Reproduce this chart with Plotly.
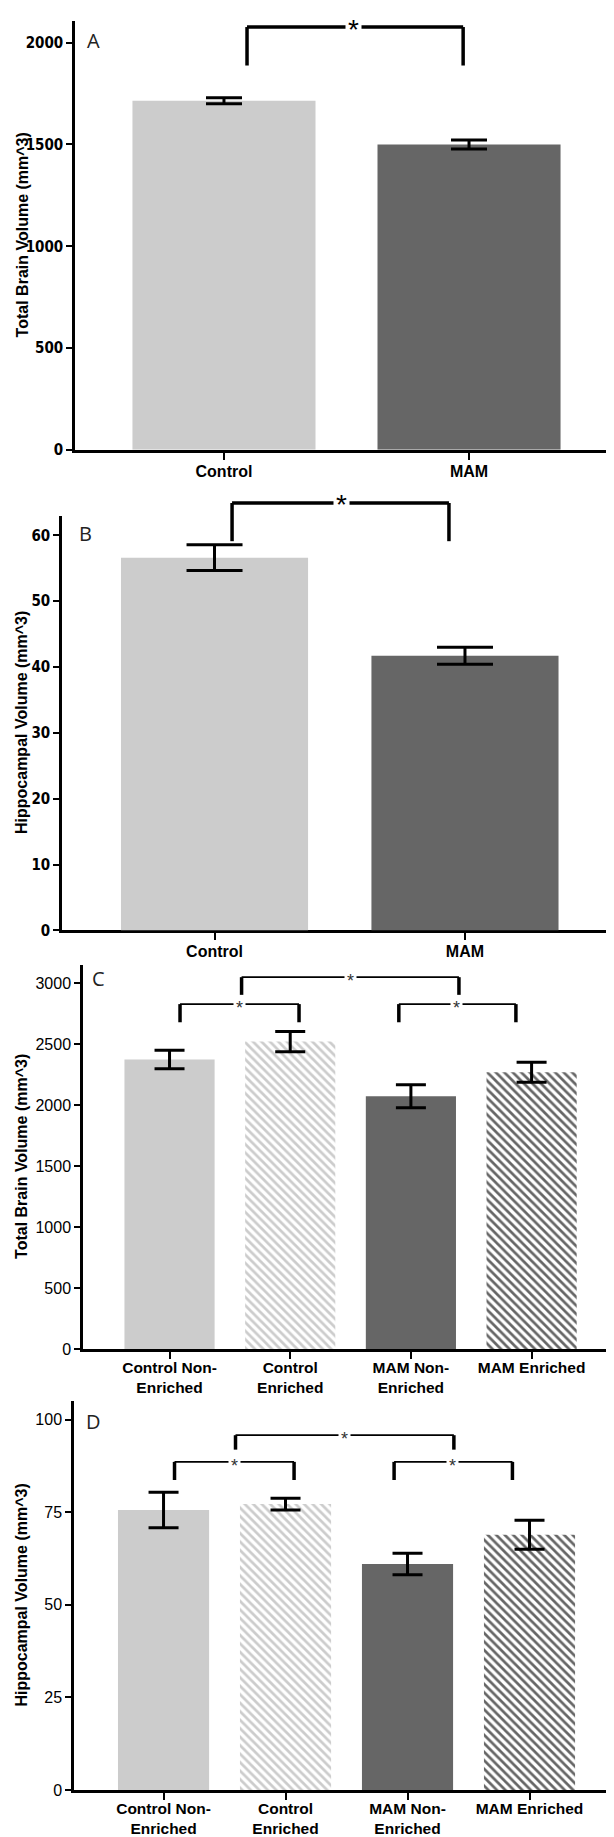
import plotly.graph_objects as go

W, H = 614, 1837

# ---------------- data ----------------
cat_ab = ["Control", "MAM"]
brain_ab = [1715, 1500]
brain_ab_err = [15, 22]
hippo_ab = [56.6, 41.7]
hippo_ab_err = [1.95, 1.3]

cat_cd = ["Control Non-Enriched", "Control Enriched", "MAM Non-Enriched", "MAM Enriched"]
cat_cd_labels = ["Control Non-<br>Enriched", "Control<br>Enriched", "MAM Non-<br>Enriched", "MAM Enriched"]
brain_cd = [2375, 2522, 2073, 2270]
brain_cd_err = [76, 83, 95, 82]
hippo_cd = [75.6, 77.2, 61.0, 68.9]
hippo_cd_err = [4.8, 1.6, 2.9, 3.9]

ticks_a = [0, 500, 1000, 1500, 2000]
ticks_b = [0, 10, 20, 30, 40, 50, 60]
ticks_c = [0, 500, 1000, 1500, 2000, 2500, 3000]
ticks_d = [0, 25, 50, 75, 100]

# significance brackets: (x_left, x_right, y_top, y_bottom, star_x)
brackets_a = [(0.094, 0.976, 2077, 1888, 0.53)]
brackets_b = [(0.07, 0.936, 64.9, 59.1, 0.505)]
brackets_c = [(0.597, 2.398, 3050, 2905, 1.5),
              (0.087, 1.073, 2829, 2680, 0.58),
              (1.90, 2.87, 2829, 2680, 2.38)]
brackets_d = [(0.59, 2.38, 95.8, 91.9, 1.48),
              (0.09, 1.07, 88.6, 83.7, 0.58),
              (1.89, 2.86, 88.6, 83.7, 2.37)]

LIGHT = "#cccccc"
DARK = "#666666"

panels = [
    dict(letter="A", cats=cat_ab, labels=cat_ab, vals=brain_ab, errs=brain_ab_err,
         colors=[LIGHT, DARK], shapes=["", ""], ticks=ticks_a, title="Total Brain Volume (mm^3)",
         xpx=(67, 610), ypx=(444, 13), xr=[-0.608, 1.608], ymax=2107,
         br=brackets_a, cap=18, small=False, letter_pos=(85, 33)),
    dict(letter="B", cats=cat_ab, labels=cat_ab, vals=hippo_ab, errs=hippo_ab_err,
         colors=[LIGHT, DARK], shapes=["", ""], ticks=ticks_b, title="Hippocampal Volume (mm^3)",
         xpx=(54, 608), ypx=(927, 510), xr=[-0.609, 1.603], ymax=63,
         br=brackets_b, cap=28, small=False, letter_pos=(77, 528)),
    dict(letter="C", cats=cat_cd, labels=cat_cd_labels, vals=brain_cd, errs=brain_cd_err,
         colors=[LIGHT, LIGHT, DARK, DARK], shapes=["", "\\", "", "\\"], ticks=ticks_c,
         title="Total Brain Volume (mm^3)",
         xpx=(75, 610), ypx=(1347.5, 961.7), xr=[-0.717, 3.716], ymax=3150,
         br=brackets_c, cap=15, small=True, letter_pos=(90, 975)),
    dict(letter="D", cats=cat_cd, labels=cat_cd_labels, vals=hippo_cd, errs=hippo_cd_err,
         colors=[LIGHT, LIGHT, DARK, DARK], shapes=["", "\\", "", "\\"], ticks=ticks_d,
         title="Hippocampal Volume (mm^3)",
         xpx=(66, 608), ypx=(1790.7, 1400), xr=[-0.734, 3.709], ymax=105,
         br=brackets_d, cap=15, small=True, letter_pos=(85, 1420)),
]

fig = go.Figure()
layout = dict(width=W, height=H, margin=dict(l=0, r=0, t=0, b=0),
              paper_bgcolor="white", plot_bgcolor="white", showlegend=False)
shapes = []
annotations = []

BOLD = "Liberation Sans, Arial, sans-serif"
NARROW = "Liberation Sans Narrow, Arial Narrow, DejaVu Sans Condensed, sans-serif"

for i, p in enumerate(panels):
    n = i + 1
    sfx = "" if n == 1 else str(n)
    xa, ya = "x" + sfx, "y" + sfx
    fig.add_trace(go.Bar(
        x=p["cats"], y=p["vals"], xaxis=xa, yaxis=ya, width=0.747,
        error_y=dict(type="data", array=p["errs"], color="black", thickness=3, width=p["cap"]),
        marker=dict(color=p["colors"], line=dict(width=0),
                    pattern=dict(shape=p["shapes"], fgcolor="white", bgcolor=p["colors"],
                                 size=6, solidity=0.45, fillmode="replace")),
        hoverinfo="skip",
    ))
    if p["small"]:
        tickfont_y = dict(family=BOLD, size=16, color="black")
        tickfont_x = dict(family=BOLD, size=15.5, color="black", weight="bold")
        standoff = -4
    else:
        tickfont_y = dict(family=NARROW, size=15, color="black", weight="bold")
        tickfont_x = dict(family=BOLD, size=16, color="black", weight="bold")
        standoff = -2
    layout["xaxis" + sfx] = dict(
        domain=[p["xpx"][0] / W, p["xpx"][1] / W], anchor=ya, type="category",
        range=p["xr"], tickmode="array", tickvals=p["cats"], ticktext=p["labels"],
        showline=True, linecolor="black", linewidth=2.5, ticks="outside", ticklen=7,
        tickwidth=1.5, tickcolor="black", tickfont=tickfont_x, showgrid=False,
        ticklabelstandoff=standoff,
        zeroline=False, layer="below traces", fixedrange=True)
    layout["yaxis" + sfx] = dict(
        domain=[1 - p["ypx"][0] / H, 1 - p["ypx"][1] / H], anchor=xa,
        range=[0, p["ymax"]], tickmode="array", tickvals=p["ticks"],
        showline=True, linecolor="black", linewidth=2.5, ticks="outside", ticklen=6,
        tickwidth=1.5, tickcolor="black", tickfont=tickfont_y, showgrid=False,
        zeroline=False, fixedrange=True)

    # y axis title
    ymid = 1 - (p["ypx"][0] + p["ypx"][1]) / 2 / H
    annotations.append(dict(text=p["title"], textangle=-90, xref="paper", yref="paper",
                            x=14 / W, y=ymid, xanchor="center", yanchor="middle",
                            showarrow=False,
                            font=dict(family=BOLD, size=16, color="black", weight="bold")))
    # panel letter
    annotations.append(dict(text=p["letter"], xref="paper", yref="paper",
                            x=p["letter_pos"][0] / W, y=1 - p["letter_pos"][1] / H,
                            xanchor="center", yanchor="middle", showarrow=False,
                            font=dict(family="Open Sans, Noto Sans, sans-serif", size=20,
                                      color="#222222")))
    # brackets
    yd = ya + " domain"
    hw = 1.8 if p["small"] else 3.5
    for (xl, xr_, yt, yb, sx) in p["br"]:
        t, b = yt / p["ymax"], yb / p["ymax"]
        for (x0, y0, x1, y1, w) in [(xl, b, xl, t, 3.5), (xl, t, xr_, t, hw), (xr_, t, xr_, b, 3.5)]:
            shapes.append(dict(type="line", xref=xa, yref=yd, x0=x0, y0=y0, x1=x1, y1=y1,
                               line=dict(color="black", width=w)))
        if p["small"]:
            annotations.append(dict(text="*", xref=xa, yref=yd, x=sx, y=t, xanchor="center",
                                    yanchor="middle", yshift=-4, showarrow=False,
                                    bgcolor="white", borderpad=2,
                                    font=dict(family=BOLD, size=18, color="#333333")))
        else:
            annotations.append(dict(text="*", xref=xa, yref=yd, x=sx, y=t, xanchor="center",
                                    yanchor="middle", yshift=-2, showarrow=False,
                                    bgcolor="white", borderpad=2,
                                    font=dict(family=BOLD, size=28, color="black")))

layout["shapes"] = shapes
layout["annotations"] = annotations
fig.update_layout(**layout)
fig.write_html("out.html")
